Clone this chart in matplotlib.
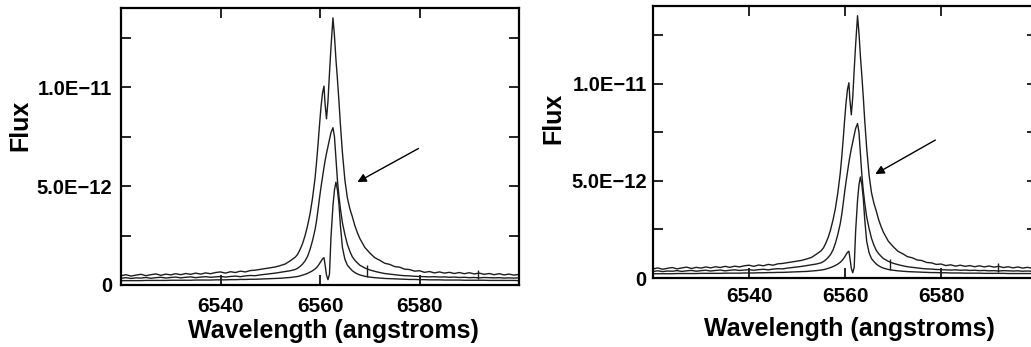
import matplotlib
matplotlib.use('Agg')
import matplotlib.pyplot as plt
from matplotlib.ticker import FixedLocator

# wavelength grid (angstroms), 1 A steps in the wings, finer across the line
wave = [6520, 6521, 6522, 6523, 6524, 6525, 6526, 6527, 6528, 6529,
        6530, 6531, 6532, 6533, 6534, 6535, 6536, 6537, 6538, 6539,
        6540, 6541, 6542, 6543, 6544, 6545, 6546, 6547, 6548, 6549,
        6550, 6551, 6552, 6553, 6554, 6555,
        6555.5, 6556, 6556.5, 6557, 6557.5, 6558, 6558.5, 6559, 6559.3, 6559.6,
        6559.9, 6560.2, 6560.5, 6560.8, 6561.0, 6561.3, 6561.6, 6561.9, 6562.2, 6562.6,
        6562.9, 6563.2, 6563.5, 6563.8, 6564.1, 6564.5, 6565, 6565.5, 6566, 6566.5,
        6567, 6567.5, 6568,
        6569, 6570, 6571, 6572, 6573, 6574, 6575, 6576, 6577, 6578,
        6579, 6580, 6581, 6582, 6583, 6584, 6585, 6586, 6587, 6588,
        6589, 6590, 6591, 6592, 6593, 6594, 6595, 6596, 6597, 6598,
        6599, 6600]

# flux in units of 1E-12
flux_a = [0.47, 0.52, 0.45, 0.50, 0.54, 0.47, 0.52, 0.56, 0.49, 0.55,
          0.51, 0.57, 0.52, 0.58, 0.54, 0.60, 0.55, 0.61, 0.57, 0.63,
          0.66, 0.60, 0.67, 0.63, 0.70, 0.66, 0.73, 0.75, 0.79, 0.83,
          0.87, 0.91, 0.98, 1.06, 1.22, 1.40,
          1.55, 1.80, 2.10, 2.50, 3.00, 3.60, 4.40, 5.40, 6.20, 7.10,
          8.10, 9.00, 9.70, 10.05, 9.20, 8.40, 9.30, 10.70, 12.00, 13.50,
          12.60, 11.40, 10.40, 9.30, 8.10, 6.70, 5.30, 4.40, 3.85, 3.45,
          3.00, 2.65, 2.35,
          1.90, 1.62, 1.38, 1.25, 1.10, 1.04, 0.93, 0.90, 0.80, 0.78,
          0.70, 0.72, 0.64, 0.68, 0.61, 0.66, 0.60, 0.64, 0.58, 0.63,
          0.57, 0.62, 0.56, 0.60, 0.54, 0.58, 0.52, 0.57, 0.51, 0.55,
          0.50, 0.53]

flux_b = [0.34, 0.37, 0.33, 0.36, 0.35, 0.38, 0.34, 0.37, 0.39, 0.35,
          0.38, 0.40, 0.36, 0.39, 0.41, 0.37, 0.40, 0.42, 0.39, 0.41,
          0.43, 0.40, 0.43, 0.45, 0.42, 0.46, 0.48, 0.47, 0.51, 0.54,
          0.57, 0.60, 0.64, 0.68, 0.72, 0.78,
          0.85, 0.94, 1.06, 1.22, 1.45, 1.80, 2.25, 2.80, 3.25, 3.80,
          4.40, 4.95, 5.45, 5.95, 6.25, 6.65, 7.00, 7.35, 7.70, 7.95,
          7.50, 6.40, 5.30, 4.50, 3.85, 3.15, 2.55, 2.05, 1.70, 1.42,
          1.25, 1.12, 1.00,
          0.86, 0.76, 0.69, 0.63, 0.58, 0.55, 0.52, 0.49, 0.47, 0.46,
          0.44, 0.43, 0.42, 0.41, 0.42, 0.40, 0.41, 0.39, 0.40, 0.38,
          0.39, 0.37, 0.38, 0.36, 0.38, 0.37, 0.36, 0.37, 0.35, 0.36,
          0.35, 0.36]

flux_c = [0.22, 0.22, 0.22, 0.22, 0.22, 0.23, 0.23, 0.23, 0.23, 0.23,
          0.24, 0.24, 0.24, 0.24, 0.24, 0.25, 0.25, 0.25, 0.25, 0.26,
          0.26, 0.26, 0.27, 0.27, 0.28, 0.28, 0.29, 0.29, 0.30, 0.31,
          0.32, 0.33, 0.34, 0.36, 0.38, 0.41,
          0.43, 0.46, 0.50, 0.54, 0.59, 0.65, 0.72, 0.81, 0.88, 0.97,
          1.08, 1.20, 1.32, 1.38, 1.05, 0.50, 0.27, 0.55, 2.40, 4.00,
          4.80, 5.20, 4.80, 4.10, 3.00, 1.90, 1.30, 1.00, 0.85, 0.72,
          0.63, 0.56, 0.51,
          0.44, 0.40, 0.37, 0.35, 0.33, 0.32, 0.31, 0.30, 0.29, 0.28,
          0.28, 0.27, 0.27, 0.26, 0.26, 0.26, 0.25, 0.25, 0.25, 0.25,
          0.24, 0.24, 0.24, 0.24, 0.24, 0.23, 0.23, 0.23, 0.23, 0.23,
          0.23, 0.22]

# single-pixel spikes in the spectra
spike_wave = [6569.4, 6591.8]
spike_low = [0.40, 0.30]
spike_high = [1.00, 0.78]

x_ticks = [6540, 6560, 6580]
y_ticks = [0, 5, 10]
y_tick_labels = ['0', '5.0E\u221212', '1.0E\u221211']
y_minor = [2.5, 7.5, 12.5]

# arrow (tail -> tip) in data units for each panel
arrow_tail = [(6579.8, 6.9), (6578.8, 7.1)]
arrow_tip = [(6567.5, 5.2), (6566.3, 5.35)]

plt.rcParams['font.family'] = ['Liberation Sans', 'DejaVu Sans']
plt.rcParams['font.weight'] = 'bold'

fig = plt.figure(figsize=(10.31, 3.47), dpi=100)

rects = [[0.1174, 0.1787, 0.3860, 0.7983],
         [0.6334, 0.1988, 0.3725, 0.7839]]
xlabel_xy = [(0.533, -0.166), (0.512, -0.189)]
ylabel_xy = [(-0.254, 0.578), (-0.26, 0.588)]
ypad = [6.5, 4.5]
xpad = [8.5, 6.5]

line_col = '#1e1e1e'

for i in range(2):
    ax = fig.add_axes(rects[i])
    for fl in (flux_a, flux_b, flux_c):
        ax.plot(wave, fl, color=line_col, lw=1.0)
    ax.vlines(spike_wave, spike_low, spike_high, color=line_col, lw=1.0)

    ax.set_xlim(6520, 6600)
    ax.set_ylim(0, 14)
    ax.set_xticks(x_ticks)
    ax.set_yticks(y_ticks)
    ax.set_yticklabels(y_tick_labels)
    ax.yaxis.set_minor_locator(FixedLocator(y_minor))

    ax.tick_params(which='both', direction='in', top=True, right=True,
                   length=7, width=1.2, color='k')
    ax.tick_params(axis='x', labelsize=15, pad=xpad[i])
    ax.tick_params(axis='y', labelsize=14.5, pad=ypad[i])
    for lab in ax.get_xticklabels() + ax.get_yticklabels():
        lab.set_fontweight('bold')
    for sp in ax.spines.values():
        sp.set_linewidth(1.6)

    ax.set_xlabel('Wavelength (angstroms)', fontsize=18, fontweight='bold')
    ax.xaxis.label.set_va('center')
    ax.xaxis.set_label_coords(*xlabel_xy[i])
    ax.set_ylabel('Flux', fontsize=18, fontweight='bold')
    ax.yaxis.label.set_va('center')
    ax.yaxis.set_label_coords(*ylabel_xy[i])

    ax.annotate('', xy=arrow_tip[i], xytext=arrow_tail[i],
                arrowprops=dict(arrowstyle='-|>', color='k', lw=1.0,
                                mutation_scale=13, shrinkA=0, shrinkB=0))

fig.savefig('out.png', dpi=100)
